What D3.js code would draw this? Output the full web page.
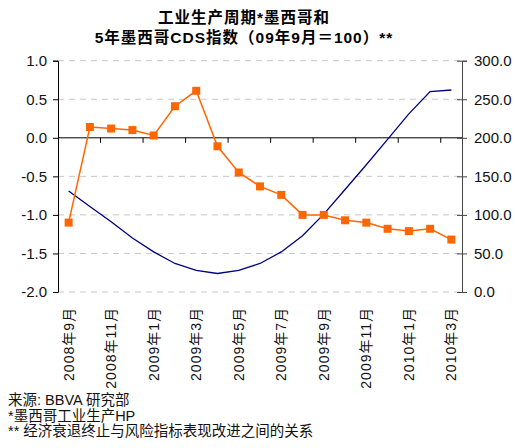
<!DOCTYPE html>
<html>
<head>
<meta charset="utf-8">
<script src="https://cdn.jsdelivr.net/npm/d3@7/dist/d3.min.js"></script>
<style>
  html, body { margin: 0; padding: 0; background: #fff; }
  svg { display: block; font-family: "Liberation Sans", Arial, "Noto Sans CJK SC", sans-serif; }
</style>
</head>
<body>
<svg id="chart" width="515" height="448"></svg>
<script>
// Months from Sep 2008 to Mar 2010
const months = [
  "2008年9月","2008年10月","2008年11月","2008年12月",
  "2009年1月","2009年2月","2009年3月","2009年4月",
  "2009年5月","2009年6月","2009年7月","2009年8月",
  "2009年9月","2009年10月","2009年11月","2009年12月",
  "2010年1月","2010年2月","2010年3月"
];
// Industrial production cycle (left axis)
const ipCycle = [-0.69, -0.89, -1.09, -1.30, -1.48, -1.63, -1.72, -1.76, -1.72, -1.63,
                 -1.48, -1.27, -0.99, -0.67, -0.35, -0.02, 0.31, 0.60, 0.62];
// 5-year CDS index, Sep 2009 = 100 (right axis)
const cdsIndex = [90, 214, 212, 210, 203, 241, 261, 189, 155, 137,
                  126, 100, 100, 93, 90, 82, 79, 82, 68];
const leftTicks = [1.0, 0.5, 0.0, -0.5, -1.0, -1.5, -2.0];
const rightTicks = [300, 250, 200, 150, 100, 50, 0];
const titleLines = ["工业生产周期*墨西哥和", "5年墨西哥CDS指数（09年9月＝100）**"];
const notes = ["来源: BBVA 研究部", "*墨西哥工业生产HP", "** 经济衰退终止与风险指标表现改进之间的关系"];

const svg = d3.select("#chart");
const plotL = 58, plotR = 462, plotT = 60.7, plotB = 292;

const x = d3.scaleBand().domain(months).range([plotL, plotR]).padding(0);
const yL = d3.scaleLinear().domain([-2, 1]).range([plotB, plotT]);
const yR = d3.scaleLinear().domain([0, 300]).range([plotB, plotT]);
const cx = d => x(d) + x.bandwidth() / 2;

// dashed gridlines
svg.append("g").selectAll("line").data(leftTicks.filter(t => t !== 0)).join("line")
  .attr("x1", plotL).attr("x2", plotR)
  .attr("y1", d => yL(d)).attr("y2", d => yL(d))
  .attr("stroke", "#c8c8c8").attr("stroke-width", 1).attr("stroke-dasharray", "6,5");

// zero line with category ticks
const zeroY = yL(0);
svg.append("line").attr("x1", plotL).attr("x2", plotR)
  .attr("y1", zeroY).attr("y2", zeroY).attr("stroke", "#000").attr("stroke-width", 1);
svg.append("g").selectAll("line")
  .data(months.filter((m, i) => i > 0 && i % 2 === 0)).join("line")
  .attr("x1", d => x(d)).attr("x2", d => x(d))
  .attr("y1", zeroY).attr("y2", zeroY + 5)
  .attr("stroke", "#000").attr("stroke-width", 1);

// left axis
const axL = svg.append("g").attr("transform", `translate(${plotL},0)`)
  .call(d3.axisLeft(yL).tickValues(leftTicks).tickFormat(d3.format(".1f")).tickSize(5).tickPadding(6));
axL.select(".domain").attr("stroke", "#000");
axL.selectAll("text").attr("font-size", 15).attr("fill", "#111").text(d => d3.format(".1f")(d).replace("−", "-"));

// right axis
const axR = svg.append("g").attr("transform", `translate(${plotR},0)`)
  .call(d3.axisRight(yR).tickValues(rightTicks).tickFormat(d3.format(".1f")).tickSize(5).tickPadding(7));
axR.select(".domain").attr("stroke", "#444");
axR.selectAll(".tick line").attr("x1", -5).attr("stroke", "#444");
axR.selectAll("text").attr("font-size", 15).attr("fill", "#111");

// month labels, every other month
svg.append("g").selectAll("text")
  .data(months.filter((m, i) => i % 2 === 0)).join("text")
  .attr("transform", d => `translate(${cx(d) + 5},307) rotate(-90)`)
  .attr("text-anchor", "end")
  .attr("font-size", 14).attr("letter-spacing", 1).attr("fill", "#111")
  .text(d => d);

// industrial production line
svg.append("path")
  .datum(ipCycle)
  .attr("fill", "none").attr("stroke", "#000080").attr("stroke-width", 1.3)
  .attr("d", d3.line().x((d, i) => cx(months[i])).y(d => yL(d)));

// CDS index line with square markers
svg.append("path")
  .datum(cdsIndex)
  .attr("fill", "none").attr("stroke", "#FF6600").attr("stroke-width", 1.5)
  .attr("d", d3.line().x((d, i) => cx(months[i])).y(d => yR(d)));
svg.append("g").selectAll("rect").data(cdsIndex).join("rect")
  .attr("x", (d, i) => cx(months[i]) - 4).attr("y", d => yR(d) - 4)
  .attr("width", 8).attr("height", 8).attr("fill", "#FF6600");

// title
svg.append("g").selectAll("text").data(titleLines).join("text")
  .attr("x", 244).attr("y", (d, i) => 23 + i * 20)
  .attr("text-anchor", "middle").attr("font-size", 15.5).attr("letter-spacing", 1)
  .attr("font-weight", "bold").attr("fill", "#000").text(d => d);

// footnotes
svg.append("g").selectAll("text").data(notes).join("text")
  .attr("x", 8).attr("y", (d, i) => 405 + i * 15.5)
  .attr("font-size", 14.5).attr("fill", "#111").text(d => d);
</script>
</body>
</html>
